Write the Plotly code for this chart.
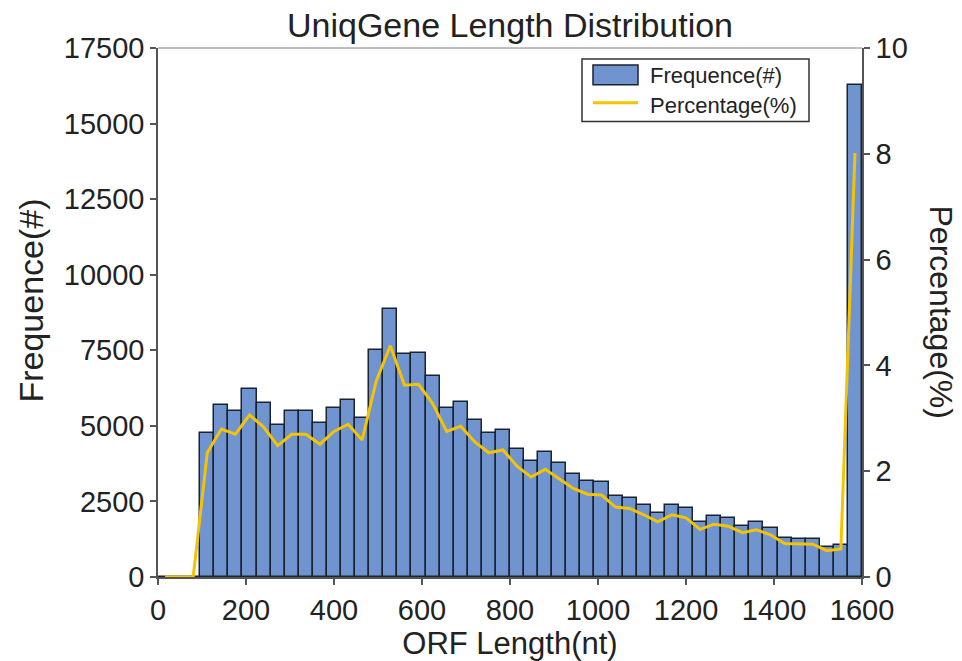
import plotly.graph_objects as go

# ORF length bins (bin centres, nt) — bin width 32 nt
bin_centers = [16, 48, 80, 112, 144, 176, 208, 240, 272, 304, 336, 368, 400, 432,
               464, 496, 528, 560, 592, 624, 656, 688, 720, 752, 784, 816, 848, 880,
               912, 944, 976, 1008, 1040, 1072, 1104, 1136, 1168, 1200, 1232, 1264,
               1296, 1328, 1360, 1392, 1424, 1456, 1488, 1520, 1552, 1584]
bin_width = 32

# Frequence (#) per bin
frequence = [0, 0, 0, 4770, 5675, 5478, 6220, 5750, 5038, 5478, 5478, 5094, 5587,
             5860, 5258, 7525, 8873, 7361, 7394, 6661, 5587, 5784, 5182, 4765, 4874,
             4250, 3834, 4130, 3779, 3395, 3177, 3145, 2685, 2629, 2388, 2114, 2388,
             2268, 1830, 2027, 1950, 1699, 1807, 1620, 1282, 1259, 1259, 1009, 1074,
             16267]

total = sum(frequence)
percentage = [f / total * 100 for f in frequence]

x_ticks = [0, 200, 400, 600, 800, 1000, 1200, 1400, 1600]
y_ticks = [0, 2500, 5000, 7500, 10000, 12500, 15000, 17500]
y2_ticks = [0, 2, 4, 6, 8, 10]

BAR_COLOR = "#7094D0"
BAR_EDGE = "#1B2230"
LINE_COLOR = "#F5C400"
AXIS_COLOR = "#555555"
TEXT_COLOR = "#222222"
FONT = "Liberation Sans, Arial, sans-serif"

fig = go.Figure()
fig.add_trace(go.Bar(
    x=bin_centers, y=frequence, width=bin_width,
    marker=dict(color=BAR_COLOR, line=dict(color=BAR_EDGE, width=1.5)),
    name="Frequence(#)", showlegend=False,
))
fig.add_trace(go.Scatter(
    x=bin_centers, y=percentage, mode="lines", yaxis="y2",
    line=dict(color=LINE_COLOR, width=3),
    name="Percentage(%)", showlegend=False,
))

axis_common = dict(
    showgrid=False, zeroline=False, showline=True, linecolor=AXIS_COLOR,
    linewidth=1.5, ticks="outside", ticklen=6, tickwidth=1.5, tickcolor=AXIS_COLOR,
    tickfont=dict(size=29, color=TEXT_COLOR, family=FONT), tickformat="d",
)

fig.update_layout(
    width=962, height=661,
    margin=dict(l=158, r=100, t=48, b=81),
    plot_bgcolor="white", paper_bgcolor="white",
    font=dict(family=FONT, color=TEXT_COLOR),
    bargap=0,
    title=dict(text="UniqGene Length Distribution", x=0.5, xref="paper",
               xanchor="center", y=1 - 25 / 661, yref="container", yanchor="middle",
               font=dict(size=34, color=TEXT_COLOR, family=FONT)),
    xaxis=dict(range=[0, 1600], tickvals=x_ticks,
               title=dict(text="ORF Length(nt)", font=dict(size=31, color=TEXT_COLOR),
                          standoff=2),
               **axis_common),
    yaxis=dict(range=[0, 17500], tickvals=y_ticks, **axis_common),
    yaxis2=dict(range=[0, 10], tickvals=y2_ticks, overlaying="y", side="right",
                **axis_common),
)

def px_x(p):
    return (p - 158) / 704

def px_y(p):
    return (580 - p) / 532

# top frame line
fig.add_shape(type="line", xref="paper", yref="paper", x0=0, x1=1, y0=1, y1=1,
              line=dict(color="#AAAAAA", width=1.5))

# left axis title
fig.add_annotation(text="Frequence(#)", xref="paper", yref="paper",
                   x=px_x(31), y=px_y(302), textangle=-90,
                   showarrow=False, xanchor="center", yanchor="middle",
                   font=dict(size=34, color=TEXT_COLOR, family=FONT))
# right axis title (reads top-to-bottom)
fig.add_annotation(text="Percentage(%)", xref="paper", yref="paper",
                   x=px_x(941), y=px_y(313), textangle=90,
                   showarrow=False, xanchor="center", yanchor="middle",
                   font=dict(size=32, color=TEXT_COLOR, family=FONT))

# legend box
fig.add_shape(type="rect", xref="paper", yref="paper",
              x0=px_x(582), x1=px_x(809), y0=px_y(122), y1=px_y(59),
              line=dict(color="#333333", width=1.5), fillcolor="white")
fig.add_shape(type="rect", xref="paper", yref="paper",
              x0=px_x(593), x1=px_x(638), y0=px_y(85), y1=px_y(65),
              line=dict(color=BAR_EDGE, width=1.5), fillcolor=BAR_COLOR)
fig.add_shape(type="line", xref="paper", yref="paper",
              x0=px_x(593), x1=px_x(638), y0=px_y(103), y1=px_y(103),
              line=dict(color=LINE_COLOR, width=3))
fig.add_annotation(text="Frequence(#)", xref="paper", yref="paper",
                   x=px_x(648), y=px_y(76), xanchor="left", yanchor="middle",
                   showarrow=False, font=dict(size=22, color=TEXT_COLOR, family=FONT))
fig.add_annotation(text="Percentage(%)", xref="paper", yref="paper",
                   x=px_x(648), y=px_y(106), xanchor="left", yanchor="middle",
                   showarrow=False, font=dict(size=22, color=TEXT_COLOR, family=FONT))

fig.write_html("out.html")
